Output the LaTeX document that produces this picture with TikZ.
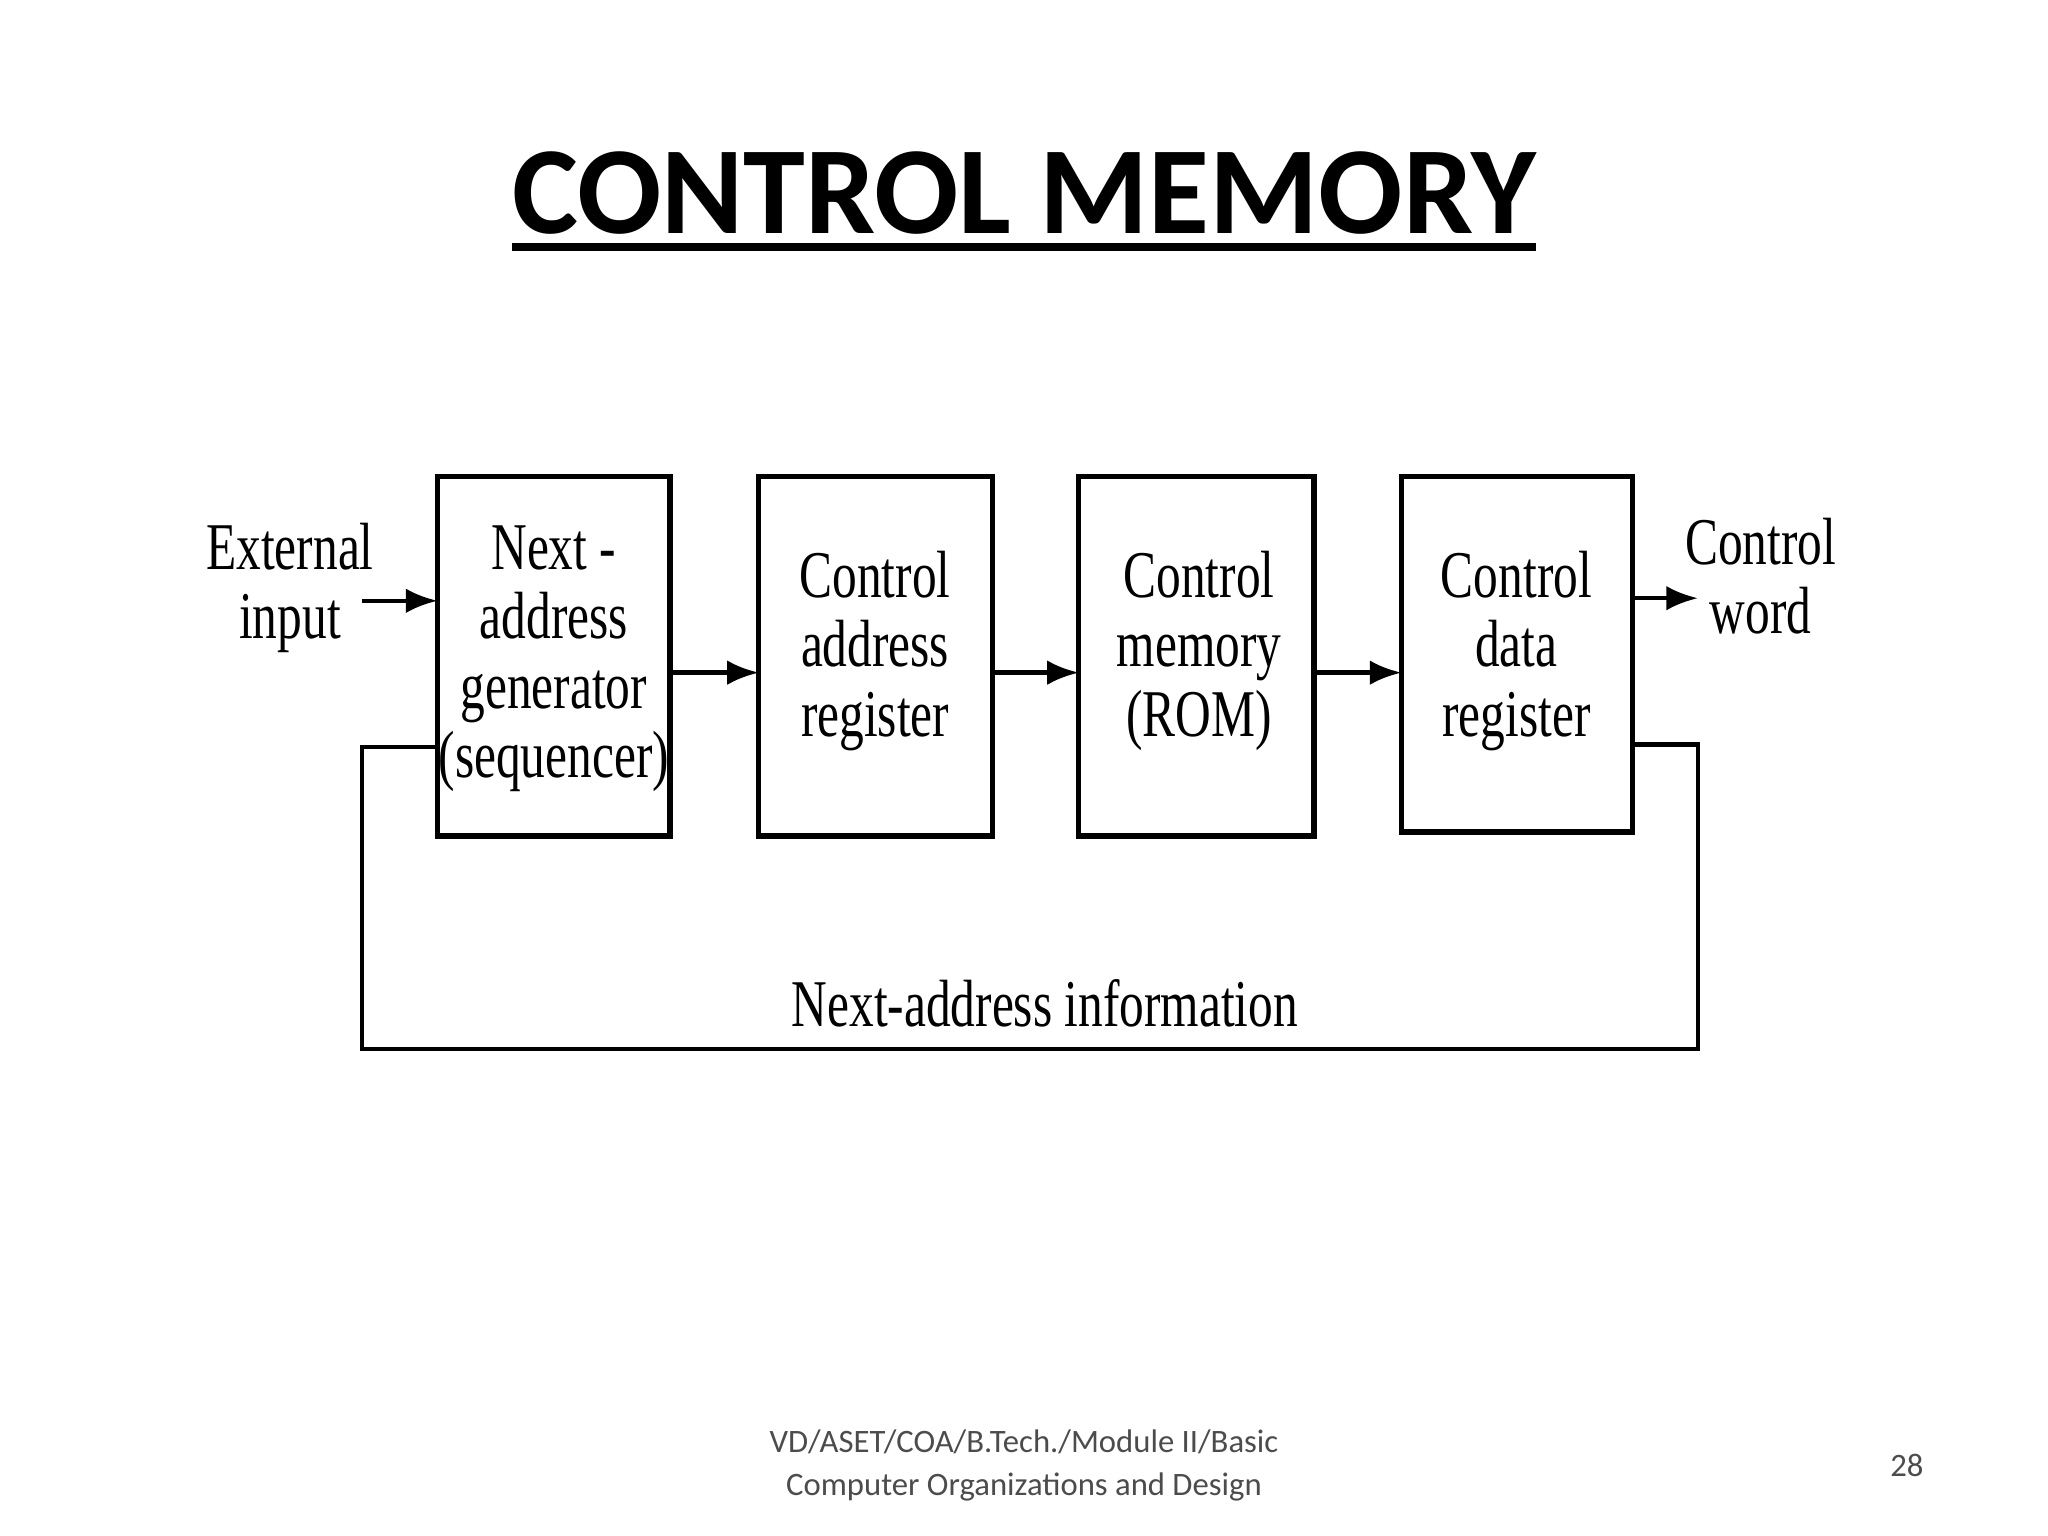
\documentclass[tikz,border=0pt]{standalone}
\usepackage{fontspec}
\setmainfont{Liberation Serif}
\newfontfamily\carfont{Carlito}
\usetikzlibrary{arrows.meta}
\newcommand\sqz[1]{\scalebox{0.74}[1]{\begin{tabular}{@{}c@{}}#1\end{tabular}}}
\begin{document}
\begin{tikzpicture}[x=0.013061cm,y=-0.013061cm,
  lbl/.style={font=\fontsize{19}{19.7}\selectfont,inner sep=0pt},
  ln/.style={line width=1.3pt},
  arr/.style={ln,-{Latex[length=9pt,width=7pt]}}]
\useasboundingbox (0,0) rectangle (1568,1176);
\node[font=\carfont\bfseries\fontsize{35.5}{40}\selectfont] (title) at (784,148) {CONTROL MEMORY};
\draw[line width=2.2pt] (392,189) -- (1176,189);
\draw[line width=1.5pt] (335,365) rectangle (513,640);
\draw[line width=1.5pt] (581,365) rectangle (760,640);
\draw[line width=1.5pt] (826,365) rectangle (1006,640);
\draw[line width=1.5pt] (1073,365) rectangle (1250,637);
\node[lbl] (b1) at (424,505) {\sqz{Next -\\address\\generator\\(sequencer)}};
\node[lbl] (b2) at (670,500) {\sqz{Control\\address\\register}};
\node[lbl] (b3) at (918,500) {\sqz{Control\\memory\\(ROM)}};
\node[lbl] (b4) at (1161,500) {\sqz{Control\\data\\register}};
\node[lbl] (ext) at (222,452) {\sqz{External\\input}};
\node[lbl] (cw) at (1348,448) {\sqz{Control\\word}};
\node[lbl,anchor=base] (nai) at (800,787) {\sqz{Next-address information}};
\coordinate (e0) at (277,460); \coordinate (e1) at (335,460);
\draw[arr] (e0) -- (e1);
\coordinate (a1) at (513,515); \coordinate (a2) at (581,515);
\draw[arr] (a1) -- (a2);
\coordinate (c1) at (760,515); \coordinate (c2) at (826,515);
\draw[arr] (c1) -- (c2);
\coordinate (d1) at (1006,515); \coordinate (d2) at (1073,515);
\draw[arr] (d1) -- (d2);
\coordinate (o1) at (1250,458); \coordinate (o2) at (1300,458);
\draw[arr] (o1) -- (o2);
\coordinate (f0) at (1250,570); \coordinate (f1) at (335,572);
\draw[ln] (f0) -- (1300,570) -- (1300,803) -- (277,803) -- (277,572) -- (f1);
\node[font=\carfont\fontsize{9.3}{12}\selectfont,align=center,text=black!70] (foot) at (784,1122) {VD/ASET/COA/B.Tech./Module II/Basic\\Computer Organizations and Design};
\node[font=\carfont\fontsize{9.3}{12}\selectfont,text=black!70] (pg) at (1460,1122) {28};
\end{tikzpicture}
\end{document}
